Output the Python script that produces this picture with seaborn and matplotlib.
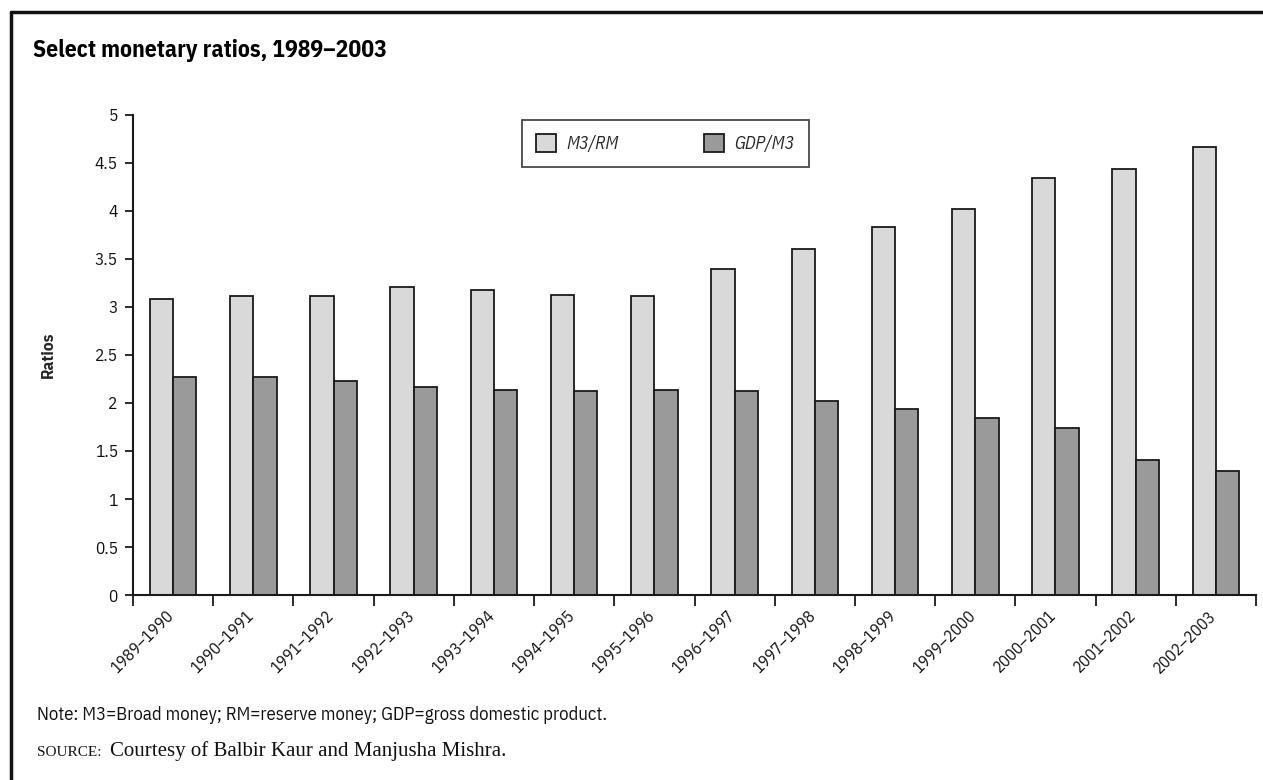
import matplotlib
matplotlib.use("Agg")
import matplotlib.pyplot as plt
from matplotlib import font_manager
from matplotlib.lines import Line2D
from matplotlib.ticker import FixedLocator, FuncFormatter
from matplotlib.transforms import ScaledTranslation
import seaborn as sns
import pandas as pd

periods = ["1989–1990", "1990–1991", "1991–1992", "1992–1993", "1993–1994",
           "1994–1995", "1995–1996", "1996–1997", "1997–1998", "1998–1999",
           "1999–2000", "2000–2001", "2001–2002", "2002–2003"]
m3_rm = [3.08, 3.11, 3.11, 3.21, 3.18, 3.13, 3.11, 3.40, 3.60, 3.83, 4.02, 4.34, 4.44, 4.67]
gdp_m3 = [2.27, 2.27, 2.23, 2.17, 2.14, 2.13, 2.14, 2.13, 2.02, 1.94, 1.84, 1.74, 1.41, 1.29]
series_names = ["M3/RM", "GDP/M3"]
y_ticks = [0, 0.5, 1, 1.5, 2, 2.5, 3, 3.5, 4, 4.5, 5]

df = pd.DataFrame({
    "period": periods * 2,
    "ratio": m3_rm + gdp_m3,
    "series": [series_names[0]] * len(periods) + [series_names[1]] * len(periods),
})

sns.set_theme(style="white")
available = {f.name for f in font_manager.fontManager.ttflist}
narrow = next((n for n in ["Liberation Sans Narrow", "Arial Narrow",
                           "IBM Plex Sans Condensed", "Roboto Condensed"]
               if n in available), "Liberation Sans")
serif = next((n for n in ["Liberation Serif", "Times New Roman"] if n in available),
             "DejaVu Serif")
plt.rcParams["font.family"] = [narrow, "DejaVu Sans"]

W, H = 1263, 780
fig = plt.figure(figsize=(W / 100, H / 100), dpi=100)
ax = fig.add_axes([133 / W, (H - 595) / H, (1256 - 133) / W, (595 - 115) / H])

sns.barplot(data=df, x="period", y="ratio", hue="series", hue_order=series_names,
            palette=["#d9d9d9", "#9a9a9a"], width=0.58, edgecolor="#1a1a1a",
            linewidth=1.3, ax=ax, legend=True)

ax.set_xlim(-0.5, len(periods) - 0.5)
ax.set_ylim(0, 5)
for s in ["top", "right"]:
    ax.spines[s].set_visible(False)
for s in ["left", "bottom"]:
    ax.spines[s].set_color("#1a1a1a")
    ax.spines[s].set_linewidth(1.5)

ax.yaxis.set_major_locator(FixedLocator(y_ticks))
ax.yaxis.set_major_formatter(FuncFormatter(lambda v, p: f"{v:g}"))
ax.tick_params(axis="y", which="major", left=True, length=6, width=1.3,
               color="#1a1a1a", labelsize=12.5, pad=5, labelcolor="#111111")

ax.set_xticks(range(len(periods)))
ax.set_xticklabels(periods, rotation=45, ha="right", rotation_mode="anchor",
                   fontsize=12, color="#111111")
ax.tick_params(axis="x", which="major", bottom=True, length=0, pad=11)
# nudge the slanted period labels so their upper ends sit under each group
shift = ScaledTranslation(-0.08, 0.03, fig.dpi_scale_trans)
for lbl in ax.get_xticklabels():
    lbl.set_transform(lbl.get_transform() + shift)
ax.set_xticks([i - 0.5 for i in range(len(periods) + 1)], minor=True)
ax.tick_params(axis="x", which="minor", bottom=True, length=8, width=1.3,
               color="#1a1a1a")

ax.set_xlabel("")
ax.set_ylabel("Ratios", fontsize=12.5, fontweight="bold", labelpad=28)

leg = ax.legend(loc="upper left", bbox_to_anchor=(0.346, 0.99), ncol=2,
                frameon=True, fancybox=False, edgecolor="#1a1a1a",
                fontsize=13, handlelength=1.1, handleheight=1.1,
                columnspacing=4.7, handletextpad=0.6, borderpad=0.8,
                borderaxespad=0)
leg.get_frame().set_linewidth(1.3)
for t in leg.get_texts():
    t.set_fontstyle("italic")
for h in leg.legend_handles:
    h.set_edgecolor("#1a1a1a")
    h.set_linewidth(1.3)

fig.text(33 / W, 1 - 50 / H, "Select monetary ratios, 1989–2003",
         fontsize=17, fontweight="bold", va="center", ha="left", color="#000000")

fig.text(37 / W, 1 - 715 / H,
         "Note: M3=Broad money; RM=reserve money; GDP=gross domestic product.",
         fontsize=13.5, va="center", ha="left", color="#111111")
fig.text(37 / W, 1 - 752 / H, "SOURCE:", fontsize=11, va="center", ha="left",
         family=[serif, "DejaVu Serif"], color="#111111")
fig.text(110 / W, 1 - 751 / H, "Courtesy of Balbir Kaur and Manjusha Mishra.",
         fontsize=15, va="center", ha="left",
         family=[serif, "DejaVu Serif"], color="#111111")

# outer frame: top and left rules
fig.add_artist(Line2D([11 / W, 1.0], [1 - 12 / H, 1 - 12 / H], color="#111111",
                      linewidth=2.5, transform=fig.transFigure))
fig.add_artist(Line2D([11 / W, 11 / W], [0.0, 1 - 12 / H], color="#111111",
                      linewidth=2.5, transform=fig.transFigure))

fig.savefig("out.png", dpi=100)
